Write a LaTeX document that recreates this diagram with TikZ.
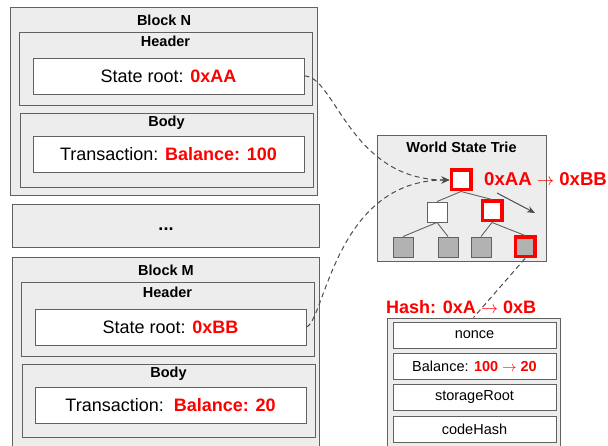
\documentclass[tikz,border=0pt]{standalone}
\usepackage{fontspec}
\setmainfont{Liberation Sans}
\usetikzlibrary{arrows.meta}
\colorlet{box edge}{black!62}
\colorlet{box area}{black!7}
\colorlet{leaf area}{black!30}
\colorlet{hot}{red}
\def\big{\fontsize{18}{20}\selectfont}
\def\small{\fontsize{14.5}{16}\selectfont}
\tikzset{panel/.style={draw=box edge, fill=box area, line width=0.9pt, inner sep=0pt},
	field/.style={draw=box edge, fill=white, line width=0.9pt, inner sep=0pt, font=\big},
	row/.style={field, minimum width=163pt, minimum height=26pt, font=\small},
	title/.style={inner sep=0pt, font=\small\bfseries},
	hl/.style={text=hot, font=\bfseries},
	knot/.style={draw=box edge, fill=white, line width=0.9pt, minimum size=20pt, inner sep=0pt},
	leaf/.style={knot, fill=leaf area},
	key/.style={draw=hot, line width=3.5pt, minimum size=19.5pt},
	branch/.style={draw=box edge, line width=0.9pt},
	link/.style={draw=black!70, line width=1pt, dash pattern=on 5pt off 3.5pt, -{Stealth[length=8pt,width=7pt]}}}

\begin{document}
\begin{tikzpicture}[x=1pt, y=-1pt]
		\useasboundingbox (0,0) rectangle (608,446);
		% block N
		\node[panel, minimum width=307pt, minimum height=188pt] (blockN) at (163.5,101) {};
		\node[title] (tN) at (164,20) {Block N};
		\node[panel, minimum width=293pt, minimum height=73pt] (headN) at (165.5,68.5) {};
		\node[title] (hN) at (165.5,41) {Header};
		\node[field, minimum width=271pt, minimum height=36pt] (rootN) at (168.5,76) {State root: {\color{hot}\bfseries 0xAA}};
		\node[panel, minimum width=293pt, minimum height=74pt] (bodyN) at (166.5,150) {};
		\node[title] (bN) at (166.5,123) {Body};
		\node[field, minimum width=271pt, minimum height=36pt] (txN) at (168.5,154) {Transaction: {\color{hot}\bfseries Balance: 100}};
		% gap
		\node[panel, minimum width=307pt, minimum height=43pt] (gap) at (165.5,225.5) {};
		\node[title, font=\big\bfseries] (dots) at (166,229) {...};
		% block M
		\node[panel, minimum width=307pt, minimum height=203pt] (blockM) at (165.5,358.5) {};
		\node[title] (tM) at (166,270) {Block M};
		\node[panel, minimum width=293pt, minimum height=74pt] (headM) at (167.5,319) {};
		\node[title] (hM) at (167.5,292) {Header};
		\node[field, minimum width=271pt, minimum height=36pt] (rootM) at (170.5,327) {State root: {\color{hot}\bfseries 0xBB}};
		\node[panel, minimum width=293pt, minimum height=73pt] (bodyM) at (168.5,400.5) {};
		\node[title] (bM) at (168.5,374) {Body};
		\node[field, minimum width=271pt, minimum height=36pt] (txM) at (170.5,405) {Transaction:\ \ {\color{hot}\bfseries Balance: 20}};
		% trie
		\node[panel, minimum width=169pt, minimum height=126pt] (trie) at (461.5,198) {};
		\node[title] (tT) at (461.5,147) {World State Trie};
		\node[knot, key] (r) at (461,180) {};
		\node[knot] (a) at (437,212) {};
		\node[knot, key] (b) at (492,211) {};
		\node[leaf] (a1) at (403,247) {};
		\node[leaf] (a2) at (448,247) {};
		\node[leaf] (b1) at (481,247) {};
		\node[leaf, key] (b2) at (525,247) {};
		\draw[branch] (r.south) -- (a.north) (r.south) -- (b.north);
		\draw[branch] (a.south) -- (a1.north) (a.south) -- (a2.north);
		\draw[branch] (b.south) -- (b1.north) (b.south) -- (b2.north);
		\coordinate (p) at (497,193);
		\coordinate (q) at (535,213);
		\draw[draw=black!70, line width=1pt, -{Stealth[length=8pt,width=6.5pt]}] (p) -- (q);
		\node[hl, anchor=west, inner sep=0pt, font=\fontsize{18.6}{20}\selectfont\bfseries] (change) at (484,179) {0xAA $\rightarrow$ 0xBB};
		% account
		\node[panel, minimum width=173pt, minimum height=142pt] (acct) at (473.5,389) {};
		\node[row] (nonce) at (474.5,335) {nonce};
		\node[row] (bal) at (474.5,366) {Balance: {\color{hot}\bfseries 100 $\rightarrow$ 20}};
		\node[row] (store) at (474.5,397.5) {storageRoot};
		\node[row] (code) at (474.5,429.5) {codeHash};
		\node[hl, anchor=west, inner sep=0pt, font=\fontsize{18}{19}\selectfont\bfseries] (hash) at (386,307) {Hash: 0xA $\rightarrow$ 0xB};
		% links
		\draw[link] (rootN.east) .. controls (335,76) and (350,180) .. (r.west);
		\draw[link] (rootM.east) .. controls (325,320) and (335,180) .. (r.west);
		\draw[link, -] (b2.south) -- (acct.north);
		\end{tikzpicture}
\end{document}
